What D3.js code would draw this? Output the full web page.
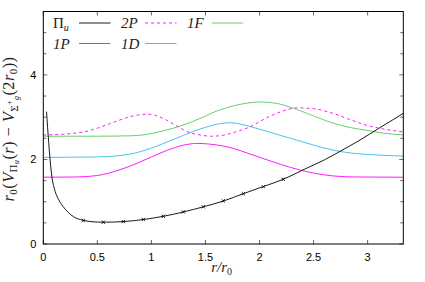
<!DOCTYPE html>
<html>
<head>
<meta charset="utf-8">
<script src="https://d3js.org/d3.v7.min.js"></script>
<style>
  body { margin: 0; background: #fff; }
  svg { display: block; }
</style>
</head>
<body>
<div id="chart"></div>
<script>
// data
var piU = [[0.03,3.13],[0.04,2.75],[0.05,2.4],[0.06,2.08],[0.07,1.8],[0.08,1.58],[0.095,1.38],
  [0.11,1.24],[0.13,1.11],[0.155,0.99],[0.185,0.88],[0.23,0.75],[0.28,0.645],[0.37,0.56],
  [0.46,0.525],[0.56,0.515],[0.74,0.53],[0.93,0.58],[1.11,0.655],[1.3,0.76],[1.48,0.88],
  [1.67,1.02],[1.85,1.19],[2.03,1.355],[2.22,1.53],[2.4,1.75],[2.6,1.99],[2.8,2.27],[2.93,2.46],
  [3.1,2.73],[3.33,3.09]];
var piUMarks = [[0.37,0.555],[0.555,0.515],[0.74,0.53],[0.925,0.58],[1.11,0.655],[1.295,0.76],
  [1.48,0.88],[1.665,1.02],[1.85,1.19],[2.035,1.355],[2.22,1.53]];
var p2 = [[0,2.58],[0.2,2.6],[0.37,2.65],[0.5,2.74],[0.62,2.85],[0.75,2.97],[0.85,3.04],[0.96,3.07],
  [1.05,3.03],[1.14,2.93],[1.25,2.77],[1.33,2.66],[1.45,2.58],[1.55,2.55],[1.63,2.56],[1.75,2.63],
  [1.91,2.77],[2.07,2.99],[2.2,3.13],[2.34,3.22],[2.5,3.2],[2.68,3.09],[2.85,2.93],[2.99,2.81],
  [3.15,2.72],[3.33,2.65]];
var f1 = [[0,2.55],[0.5,2.55],[0.8,2.56],[0.92,2.58],[1.1,2.67],[1.29,2.81],[1.45,2.97],[1.63,3.17],
  [1.76,3.27],[1.88,3.33],[2.0,3.36],[2.15,3.33],[2.28,3.24],[2.5,3.03],[2.68,2.86],[2.85,2.75],
  [2.99,2.69],[3.15,2.62],[3.33,2.58]];
var p1 = [[0,1.58],[0.3,1.585],[0.5,1.62],[0.7,1.75],[0.83,1.87],[1.0,2.06],[1.14,2.21],[1.3,2.34],
  [1.42,2.38],[1.55,2.36],[1.76,2.26],[1.9,2.14],[2.07,1.99],[2.2,1.88],[2.375,1.75],[2.5,1.68],
  [2.68,1.61],[2.9,1.585],[3.33,1.58]];
var d1 = [[0,2.05],[0.5,2.06],[0.7,2.09],[0.83,2.14],[1.0,2.27],[1.19,2.46],[1.45,2.72],[1.6,2.83],
  [1.73,2.87],[1.91,2.78],[2.1,2.64],[2.34,2.46],[2.5,2.34],[2.68,2.22],[2.85,2.15],[2.99,2.12],
  [3.33,2.08]];

var xTicks = [0, 0.5, 1, 1.5, 2, 2.5, 3];
var xTickLabels = ["0", "0.5", "1", "1.5", "2", "2.5", "3"];
var yTicks = d3.range(0, 5.01, 0.5);
var yLabelTicks = [0, 2, 4];

const width = 425, height = 282;
const margin = {top: 11.5, right: 21.7, bottom: 38, left: 43.3};
const innerW = width - margin.left - margin.right;
const innerH = height - margin.top - margin.bottom;

var x = d3.scaleLinear().domain([0, 3.33]).range([0, innerW]);
var y = d3.scaleLinear().domain([0, 5.5]).range([innerH, 0]);

const svg = d3.select('#chart').append('svg')
  .attr('width', width).attr('height', height);
const g = svg.append('g').attr('transform', 'translate(' + margin.left + ',' + margin.top + ')');

svg.append('clipPath').attr('id', 'clip')
  .append('rect').attr('width', innerW).attr('height', innerH);

// ticks (inward, mirrored)
var tickFont = "'Liberation Sans', Arial, sans-serif";
xTicks.forEach(function(t) {
  g.append('line').attr('x1', x(t)).attr('x2', x(t)).attr('y1', innerH).attr('y2', innerH - 4)
    .attr('stroke', '#000').attr('stroke-width', 0.6);
  g.append('line').attr('x1', x(t)).attr('x2', x(t)).attr('y1', 0).attr('y2', 4)
    .attr('stroke', '#000').attr('stroke-width', 0.6);
});
yTicks.forEach(function(t) {
  var len = yLabelTicks.indexOf(t) >= 0 ? 4 : 3;
  g.append('line').attr('x1', 0).attr('x2', len).attr('y1', y(t)).attr('y2', y(t))
    .attr('stroke', '#000').attr('stroke-width', 0.6);
  g.append('line').attr('x1', innerW).attr('x2', innerW - len).attr('y1', y(t)).attr('y2', y(t))
    .attr('stroke', '#000').attr('stroke-width', 0.6);
});

g.selectAll('.xl').data(xTicks).enter().append('text')
  .attr('x', d => x(d)).attr('y', innerH + 17)
  .attr('text-anchor', 'middle')
  .style('font-family', tickFont).style('font-size', '11px')
  .text((d, i) => xTickLabels[i]);

g.selectAll('.yl').data(yLabelTicks).enter().append('text')
  .attr('x', -7).attr('y', d => y(d) + 4)
  .attr('text-anchor', 'end')
  .style('font-family', tickFont).style('font-size', '11px')
  .text(d => d);

// curves
var line = d3.line().x(d => x(d[0])).y(d => y(d[1])).curve(d3.curveMonotoneX);
var curves = g.append('g').attr('clip-path', 'url(#clip)');

var series = [
  {data: p1, color: '#ff00ff', dash: null},
  {data: d1, color: '#33bbee', dash: null},
  {data: f1, color: '#55cc55', dash: null},
  {data: p2, color: '#ff00ff', dash: '3,3'},
  {data: piU, color: '#000000', dash: null}
];
series.forEach(function(s) {
  curves.append('path').attr('d', line(s.data))
    .attr('fill', 'none').attr('stroke', s.color).attr('stroke-width', 0.9)
    .attr('stroke-dasharray', s.dash);
});

// small x markers on the Pi_u curve
curves.selectAll('.mk').data(piUMarks).enter().append('path')
  .attr('d', function(d) {
    var cx = x(d[0]), cy = y(d[1]), r = 1.6;
    return 'M' + (cx - r) + ',' + (cy - r) + 'L' + (cx + r) + ',' + (cy + r) +
      'M' + (cx - r) + ',' + (cy + r) + 'L' + (cx + r) + ',' + (cy - r);
  })
  .attr('stroke', '#000').attr('stroke-width', 0.9);

// frame
g.append('rect').attr('width', innerW).attr('height', innerH)
  .attr('fill', 'none').attr('stroke', '#000').attr('stroke-width', 1);

// legend
var serif = "'Liberation Serif', 'DejaVu Serif', serif";
var legend = [
  {label: 'Π', sub: 'u', color: '#000000', dash: null, tx: 53, lx: 79, row: 0},
  {label: '2P', color: '#ff00ff', dash: '3,3', tx: 121, lx: 145, row: 0},
  {label: '1F', color: '#55cc55', dash: null, tx: 187, lx: 211.7, row: 0},
  {label: '1P', color: '#ff00ff', dash: null, tx: 53, lx: 79, row: 1},
  {label: '1D', color: '#33bbee', dash: null, tx: 121, lx: 145, row: 1}
];
legend.forEach(function(l) {
  var ly = 23 + l.row * 20.5;
  var t = svg.append('text').attr('x', l.tx).attr('y', ly + 5)
    .attr('fill', '#222')
    .style('font-family', serif).style('font-size', '15px')
    .style('font-style', l.sub ? 'normal' : 'italic');
  t.append('tspan').text(l.label);
  if (l.sub) {
    t.append('tspan').attr('dy', 3).style('font-size', '10px').style('font-style', 'italic').text(l.sub);
  }
  svg.append('line').attr('x1', l.lx).attr('x2', l.lx + 31.5).attr('y1', ly).attr('y2', ly)
    .attr('stroke', l.color).attr('stroke-width', 0.9).attr('stroke-dasharray', l.dash);
});

// axis titles
var xt = svg.append('text').attr('x', margin.left + x(1.65)).attr('y', 272)
  .attr('text-anchor', 'middle').attr('fill', '#222')
  .style('font-family', serif).style('font-size', '15px').style('font-style', 'italic');
xt.append('tspan').text('r/r');
xt.append('tspan').attr('dy', 3).style('font-size', '10px').style('font-style', 'normal').text('0');

var yt = svg.append('text')
  .attr('transform', 'translate(14,' + (margin.top + y(2.72)) + ') rotate(-90)')
  .attr('text-anchor', 'middle').attr('fill', '#222')
  .style('font-family', serif).style('font-size', '16.5px').style('letter-spacing', '0.4px');
function part(txt, dy, size, italic) {
  yt.append('tspan').attr('dy', dy).style('font-size', size)
    .style('font-style', italic ? 'italic' : 'normal').text(txt);
}
part('r', 0, '16.5px', true);
part('0', 3, '11px', false);
part('(', -3, '16.5px', false);
part('V', 0, '16.5px', true);
part('Π', 3, '11px', false);
part('u', 2, '8px', true);
part('(', -5, '16.5px', false);
part('r', 0, '16.5px', true);
part(') − ', 0, '16.5px', false);
part('V', 0, '16.5px', true);
part('Σ', 4, '11px', false);
part('+', -6, '8px', false);
part('g', 7, '8px', true);
part('(2', -5, '16.5px', false);
part('r', 0, '16.5px', true);
part('0', 3, '11px', false);
part('))', -3, '16.5px', false);
</script>
</body>
</html>
